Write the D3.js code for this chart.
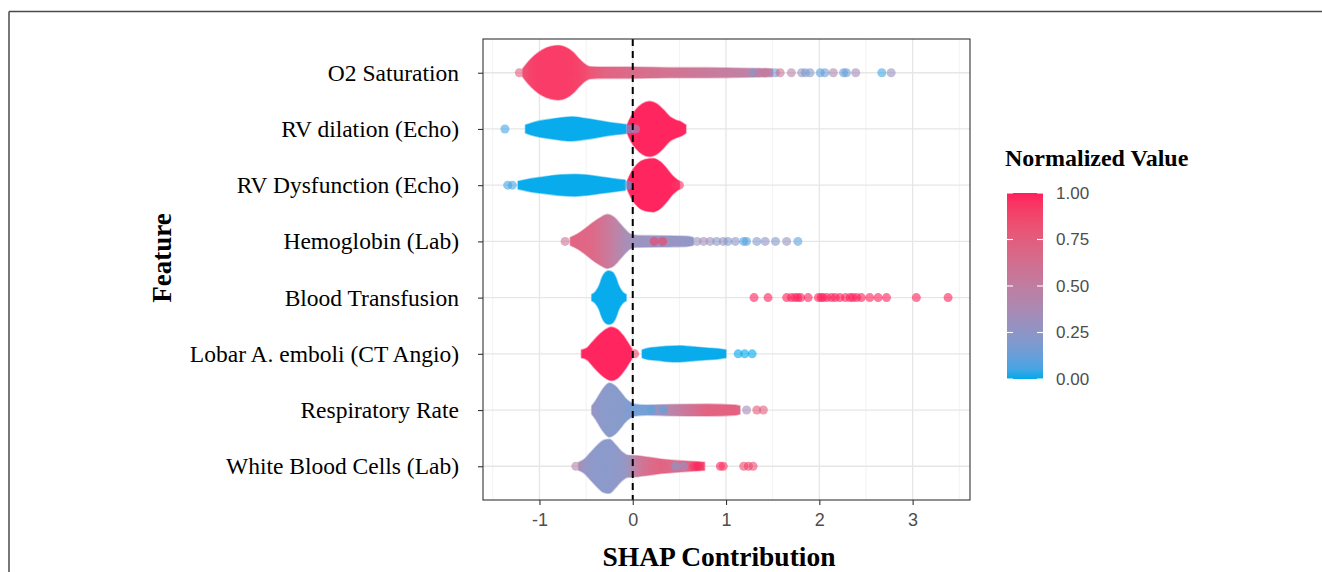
<!DOCTYPE html>
<html>
<head>
<meta charset="utf-8">
<script src="https://cdn.jsdelivr.net/npm/d3@7"></script>
<style>
  html, body { margin: 0; padding: 0; background: #fff; }
  svg { display: block; }
</style>
</head>
<body>
<svg id="chart" width="1322" height="572"></svg>
<script>
// ---------------- DATA ----------------
const features = ["O2 Saturation", "RV dilation (Echo)", "RV Dysfunction (Echo)", "Hemoglobin (Lab)",
  "Blood Transfusion", "Lobar A. emboli (CT Angio)", "Respiratory Rate", "White Blood Cells (Lab)"];

const xTicks = [-1, 0, 1, 2, 3];
const xMinorTicks = [-1.5, -0.5, 0.5, 1.5, 2.5, 3.5];
const legendTicks = [0, 0.25, 0.5, 0.75, 1];

// dense swarm bodies: feature index, SHAP positions, relative spread, normalized feature value
const bodyFeature = [0, 1, 1, 2, 2, 3, 4, 5, 5, 6, 7];
const bodyShap = [
  [-1.18, -1.12, -1.05, -0.97, -0.88, -0.80, -0.72, -0.64, -0.57, -0.51, -0.45, -0.30, 0.00, 0.40, 0.80, 1.20, 1.50],
  [-1.15, -1.05, -0.90, -0.75, -0.65, -0.50, -0.35, -0.20, -0.07],
  [-0.06, -0.02, 0.04, 0.10, 0.18, 0.26, 0.33, 0.40, 0.46, 0.52, 0.57],
  [-1.23, -1.10, -0.95, -0.78, -0.62, -0.48, -0.33, -0.20, -0.08],
  [-0.06, -0.02, 0.05, 0.13, 0.22, 0.30, 0.37, 0.42, 0.47, 0.50],
  [-0.67, -0.60, -0.52, -0.44, -0.36, -0.27, -0.20, -0.13, -0.07, -0.02, 0.05, 0.30, 0.58, 0.65],
  [-0.44, -0.40, -0.36, -0.33, -0.29, -0.26, -0.22, -0.18, -0.15, -0.11, -0.07],
  [-0.55, -0.49, -0.44, -0.38, -0.31, -0.23, -0.16, -0.10, -0.05, -0.01],
  [0.10, 0.16, 0.25, 0.35, 0.50, 0.65, 0.80, 0.92, 1.00],
  [-0.44, -0.40, -0.36, -0.31, -0.25, -0.19, -0.13, -0.08, -0.03, 0.02, 0.15, 0.40, 0.80, 1.10, 1.15],
  [-0.58, -0.52, -0.46, -0.39, -0.31, -0.25, -0.18, -0.11, -0.05, 0.05, 0.15, 0.30, 0.50, 0.70, 0.77]
];
const bodyDensity = [
  [0.14, 0.39, 0.62, 0.81, 0.93, 0.97, 0.91, 0.73, 0.48, 0.30, 0.21, 0.20, 0.20, 0.18, 0.18, 0.16, 0.14],
  [0.14, 0.25, 0.34, 0.41, 0.43, 0.37, 0.29, 0.21, 0.16],
  [0.14, 0.43, 0.71, 0.89, 0.98, 0.89, 0.68, 0.43, 0.32, 0.25, 0.14],
  [0.14, 0.23, 0.30, 0.37, 0.39, 0.36, 0.29, 0.23, 0.18],
  [0.14, 0.43, 0.75, 0.91, 0.95, 0.82, 0.57, 0.36, 0.21, 0.14],
  [0.14, 0.25, 0.43, 0.64, 0.82, 0.96, 0.86, 0.61, 0.39, 0.25, 0.21, 0.20, 0.18, 0.14],
  [0.11, 0.21, 0.43, 0.71, 0.91, 0.95, 0.91, 0.71, 0.43, 0.21, 0.11],
  [0.14, 0.21, 0.39, 0.61, 0.82, 0.95, 0.86, 0.64, 0.39, 0.18],
  [0.14, 0.20, 0.23, 0.27, 0.29, 0.25, 0.21, 0.18, 0.14],
  [0.14, 0.32, 0.54, 0.79, 0.96, 0.86, 0.64, 0.43, 0.29, 0.21, 0.18, 0.20, 0.21, 0.18, 0.14],
  [0.14, 0.25, 0.46, 0.71, 0.93, 0.96, 0.75, 0.50, 0.39, 0.37, 0.33, 0.26, 0.20, 0.16, 0.14]
];
const bodyValue = [
  [0.85, 0.90, 0.93, 0.94, 0.94, 0.94, 0.94, 0.93, 0.91, 0.88, 0.82, 0.74, 0.68, 0.62, 0.55, 0.50, 0.45],
  [0, 0, 0, 0, 0, 0, 0, 0, 0],
  [1, 1, 1, 1, 1, 1, 1, 1, 1, 1, 1],
  [0, 0, 0, 0, 0, 0, 0, 0, 0],
  [1, 1, 1, 1, 1, 1, 1, 1, 1, 1],
  [0.74, 0.73, 0.72, 0.70, 0.65, 0.57, 0.50, 0.42, 0.36, 0.33, 0.30, 0.30, 0.26, 0.24],
  [0, 0, 0, 0, 0, 0, 0, 0, 0, 0, 0],
  [1, 1, 1, 1, 1, 1, 1, 1, 1, 1],
  [0, 0, 0, 0, 0, 0, 0, 0, 0],
  [0.28, 0.25, 0.24, 0.23, 0.22, 0.22, 0.22, 0.20, 0.18, 0.14, 0.16, 0.45, 0.75, 0.75, 0.72],
  [0.34, 0.28, 0.25, 0.23, 0.23, 0.23, 0.24, 0.26, 0.30, 0.55, 0.66, 0.74, 0.66, 0.86, 0.90]
];

// isolated points
const pointFeature = [
  0, 0, 0, 0, 0, 0, 0, 0, 0, 0, 0, 0, 0, 0, 0, 0, 0, 0,
  1, 1, 1,
  2, 2, 2, 2, 2,
  3, 3, 3, 3, 3, 3, 3, 3, 3, 3, 3, 3, 3, 3, 3, 3, 3,
  4, 4, 4, 4, 4, 4, 4, 4, 4, 4, 4, 4, 4, 4, 4, 4, 4, 4, 4, 4, 4, 4, 4, 4, 4,
  5, 5, 5, 5,
  6, 6, 6, 6, 6,
  7, 7, 7, 7, 7, 7, 7, 7, 7, 7
];
const pointShap = [
  -1.215, 1.29, 1.35, 1.42, 1.53, 1.58, 1.70, 1.81, 1.85, 1.90, 2.01, 2.06, 2.15, 2.26, 2.29, 2.39, 2.67, 2.77,
  -1.37, -0.03, 0.03,
  -1.34, -1.29, -0.05, 0.46, 0.50,
  -0.725, 0.23, 0.32, 0.69, 0.76, 0.83, 0.90, 0.97, 1.02, 1.10, 1.19, 1.22, 1.33, 1.42, 1.53, 1.65, 1.77,
  1.30, 1.45, 1.65, 1.70, 1.74, 1.77, 1.80, 1.88, 1.99, 2.02, 2.04, 2.08, 2.13, 2.17, 2.22, 2.28, 2.33, 2.36, 2.40, 2.45, 2.54, 2.63, 2.72, 3.04, 3.38,
  0.02, 1.13, 1.20, 1.28,
  0.20, 0.33, 1.22, 1.33, 1.40,
  -0.61, 0.46, 0.55, 0.66, 0.70, 0.94, 0.97, 1.19, 1.24, 1.29
];
const pointValue = [
  0.75, 0.2, 0.5, 0.55, 0.15, 0.6, 0.45, 0.25, 0.2, 0.2, 0.1, 0.15, 0.4, 0.1, 0.15, 0.35, 0.05, 0.3,
  0.05, 0.1, 0.3,
  0.05, 0.05, 0.05, 0.95, 0.95,
  0.6, 0.9, 0.9, 0.3, 0.35, 0.3, 0.25, 0.3, 0.2, 0.25, 0.05, 0.1, 0.2, 0.25, 0.2, 0.3, 0.1,
  1, 1, 1, 1, 1, 1, 1, 1, 1, 1, 1, 1, 1, 1, 1, 1, 1, 1, 1, 1, 1, 1, 1, 1, 1,
  0.9, 0, 0, 0,
  0.1, 0.1, 0.35, 0.8, 0.75,
  0.45, 0.2, 0.3, 0.95, 1.0, 1.0, 0.95, 0.85, 0.9, 0.85
];

// ---------------- LAYOUT ----------------
const svg = d3.select("#chart");
const panel = { left: 483, right: 970, top: 39, bottom: 500 };

const x = d3.scaleLinear().domain([-1.605, 3.615]).range([panel.left, panel.right]);
const y = d3.scalePoint().domain(features).range([panel.top, panel.bottom]).padding(0.6);
const halfRow = y.step() / 2;
const color = d3.scaleLinear().domain([0, 1]).range(["#00A9EC", "#FF1F5B"]).interpolate(d3.interpolateLab);

// outer frame (top + left rule)
svg.append("line").attr("x1", 9).attr("x2", 1322).attr("y1", 11.5).attr("y2", 11.5)
  .attr("stroke", "#4a4a4a").attr("stroke-width", 1.5);
svg.append("line").attr("x1", 9).attr("x2", 9).attr("y1", 11.5).attr("y2", 572)
  .attr("stroke", "#4a4a4a").attr("stroke-width", 1.5);

const defs = svg.append("defs");
defs.append("clipPath").attr("id", "clip").append("rect")
  .attr("x", panel.left).attr("y", panel.top)
  .attr("width", panel.right - panel.left).attr("height", panel.bottom - panel.top);

// grid
const grid = svg.append("g");
grid.selectAll(".minor").data(xMinorTicks.filter(t => x(t) < panel.right)).join("line")
  .attr("x1", d => x(d)).attr("x2", d => x(d)).attr("y1", panel.top).attr("y2", panel.bottom)
  .attr("stroke", "#F2F2F2").attr("stroke-width", 1);
grid.selectAll(".major").data(xTicks).join("line")
  .attr("x1", d => x(d)).attr("x2", d => x(d)).attr("y1", panel.top).attr("y2", panel.bottom)
  .attr("stroke", "#E6E6E6").attr("stroke-width", 1.3);
grid.selectAll(".row").data(features).join("line")
  .attr("x1", panel.left).attr("x2", panel.right).attr("y1", d => y(d)).attr("y2", d => y(d))
  .attr("stroke", "#E6E6E6").attr("stroke-width", 1.3);

// swarm bodies
const plot = svg.append("g").attr("clip-path", "url(#clip)");
bodyShap.forEach((xs, i) => {
  const cy = y(features[bodyFeature[i]]);
  const pts = xs.map((v, j) => ({ v, d: bodyDensity[i][j], c: bodyValue[i][j] }));
  const x0 = x(xs[0]), x1 = x(xs[xs.length - 1]);
  const gid = "bg" + i;
  const grad = defs.append("linearGradient").attr("id", gid)
    .attr("gradientUnits", "userSpaceOnUse")
    .attr("x1", x0).attr("x2", x1).attr("y1", 0).attr("y2", 0);
  pts.forEach(p => grad.append("stop")
    .attr("offset", (x(p.v) - x0) / (x1 - x0))
    .attr("stop-color", color(p.c)));
  const area = d3.area()
    .x(p => x(p.v))
    .y0(p => cy - p.d * halfRow)
    .y1(p => cy + p.d * halfRow)
    .curve(d3.curveMonotoneX);
  plot.append("path").attr("d", area(pts))
    .attr("fill", `url(#${gid})`).attr("fill-opacity", 0.97)
    .attr("stroke", `url(#${gid})`).attr("stroke-opacity", 0.45).attr("stroke-width", 1.6)
    .attr("stroke-linejoin", "round");
});

// isolated points
plot.selectAll(".pt").data(pointShap.map((v, i) => ({ v, f: pointFeature[i], c: pointValue[i] })))
  .join("circle")
  .attr("cx", d => x(d.v)).attr("cy", d => y(features[d.f]))
  .attr("r", 4.5)
  .attr("fill", d => color(d.c)).attr("fill-opacity", 0.6);

// zero reference line
svg.append("line").attr("x1", x(0)).attr("x2", x(0)).attr("y1", panel.top).attr("y2", panel.bottom)
  .attr("stroke", "#000").attr("stroke-width", 2).attr("stroke-dasharray", "7,5");

// panel border
svg.append("rect").attr("x", panel.left).attr("y", panel.top)
  .attr("width", panel.right - panel.left).attr("height", panel.bottom - panel.top)
  .attr("fill", "none").attr("stroke", "#333").attr("stroke-width", 1.1);

// x axis
const xAxis = svg.append("g").attr("transform", `translate(0,${panel.bottom})`)
  .call(d3.axisBottom(x).tickValues(xTicks).tickSize(5).tickPadding(8).tickFormat(d => String(d)));
xAxis.select(".domain").remove();
xAxis.selectAll("line").attr("stroke", "#333").attr("stroke-width", 1.1);
xAxis.selectAll("text").attr("font-family", "'Liberation Sans', Arial, sans-serif")
  .attr("font-size", 18).attr("fill", "#4D4D4D");

// y axis
const yAxis = svg.append("g").attr("transform", `translate(${panel.left},0)`)
  .call(d3.axisLeft(y).tickSize(5).tickPadding(19));
yAxis.select(".domain").remove();
yAxis.selectAll("line").attr("stroke", "#333").attr("stroke-width", 1.1);
yAxis.selectAll("text").attr("font-family", "'Liberation Serif', 'Times New Roman', serif")
  .attr("font-size", 23.5).attr("fill", "#000");

// axis titles
svg.append("text").attr("x", 719).attr("y", 566).attr("text-anchor", "middle")
  .attr("font-family", "'Liberation Serif', 'Times New Roman', serif")
  .attr("font-weight", "bold").attr("font-size", 27.5).text("SHAP Contribution");
svg.append("text").attr("transform", "translate(171,258) rotate(-90)").attr("text-anchor", "middle")
  .attr("font-family", "'Liberation Serif', 'Times New Roman', serif")
  .attr("font-weight", "bold").attr("font-size", 27).text("Feature");

// legend
const lg = { x: 1007, y: 193, w: 36, h: 186 };
const lgScale = d3.scaleLinear().domain([0, 1]).range([lg.y + lg.h, lg.y]);
const lgrad = defs.append("linearGradient").attr("id", "lgrad")
  .attr("x1", 0).attr("x2", 0).attr("y1", 1).attr("y2", 0);
d3.range(0, 1.0001, 0.05).forEach(t => lgrad.append("stop")
  .attr("offset", t).attr("stop-color", color(t)));
svg.append("text").attr("x", 1005).attr("y", 166)
  .attr("font-family", "'Liberation Serif', 'Times New Roman', serif")
  .attr("font-weight", "bold").attr("font-size", 24).text("Normalized Value");
svg.append("rect").attr("x", lg.x).attr("y", lg.y).attr("width", lg.w).attr("height", lg.h)
  .attr("fill", "url(#lgrad)");
const lt = svg.append("g");
lt.selectAll(".tl").data(legendTicks).join("line")
  .attr("x1", lg.x).attr("x2", lg.x + 6).attr("y1", d => lgScale(d)).attr("y2", d => lgScale(d))
  .attr("stroke", "#fff").attr("stroke-width", 1.1);
lt.selectAll(".tr").data(legendTicks).join("line")
  .attr("x1", lg.x + lg.w - 6).attr("x2", lg.x + lg.w).attr("y1", d => lgScale(d)).attr("y2", d => lgScale(d))
  .attr("stroke", "#fff").attr("stroke-width", 1.1);
lt.selectAll("text").data(legendTicks).join("text")
  .attr("x", 1056).attr("y", d => lgScale(d)).attr("dy", "0.35em")
  .attr("font-family", "'Liberation Sans', Arial, sans-serif").attr("font-size", 17)
  .attr("fill", "#4D4D4D").text(d => d3.format(".2f")(d));
</script>
</body>
</html>
